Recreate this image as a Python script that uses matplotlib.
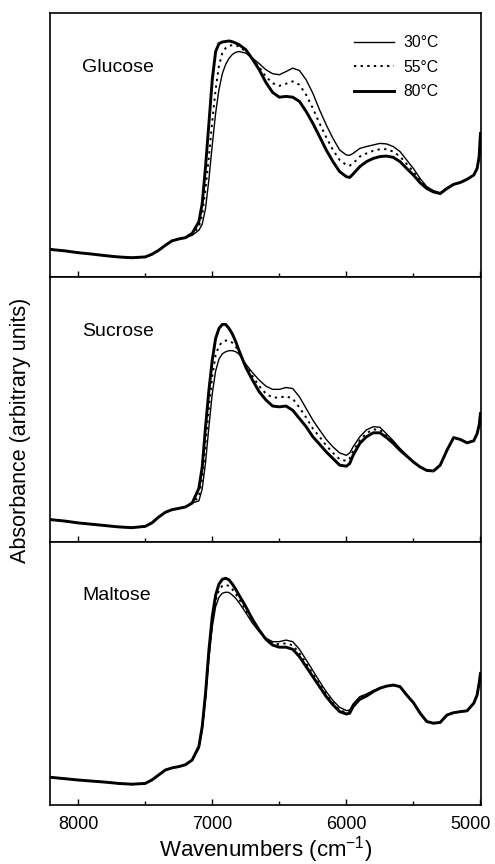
import numpy as np
import matplotlib
matplotlib.use('Agg')
import matplotlib.pyplot as plt
import matplotlib.transforms as mtransforms

plt.rcParams['font.family'] = ['Liberation Sans', 'DejaVu Sans']

wavenumber = [8200, 8100, 8000, 7900, 7800, 7700, 7600, 7500,
              7450, 7400, 7350, 7300, 7250, 7200, 7150, 7100,
              7075, 7050, 7025, 7000, 6975, 6950, 6925, 6900, 6875, 6850, 6825, 6800,
              6750, 6700, 6650, 6600, 6550, 6500, 6450, 6400, 6350, 6300, 6250, 6200,
              6150, 6100, 6050, 6000, 5975,
              5950, 5900, 5850, 5800, 5750, 5700, 5650, 5600, 5550, 5500, 5450, 5400,
              5350, 5300, 5250, 5200, 5150, 5100, 5050, 5025, 5010, 5000]

glucose_30 = [.104, .099, .092, .087, .081, .076, .073, .076,
              .086, .101, .120, .137, .144, .149, .158, .177,
              .200, .260, .370, .500, .620, .710, .770, .805, .828, .843, .851, .854,
              .848, .829, .808, .785, .770, .766, .778, .791, .782, .747, .696, .633,
              .576, .525, .481, .462, .461,
              .468, .487, .494, .500, .506, .504, .494, .475, .443, .411, .373, .342,
              .327, .319, .338, .351, .358, .370, .386, .411, .456, .544]
glucose_55 = [.104, .099, .092, .087, .081, .076, .073, .076,
              .086, .101, .120, .137, .144, .149, .161, .190,
              .234, .335, .456, .590, .710, .800, .848, .867, .876, .878, .877, .873,
              .854, .825, .795, .759, .734, .724, .732, .741, .728, .690, .639, .582,
              .529, .481, .443, .424, .422,
              .430, .456, .468, .478, .484, .484, .475, .456, .428, .399, .365, .338,
              .323, .316, .337, .351, .358, .370, .386, .411, .456, .544]
glucose_80 = [.104, .099, .092, .087, .081, .076, .073, .076,
              .086, .101, .120, .137, .144, .149, .165, .209,
              .278, .418, .582, .747, .854, .884, .890, .892, .894, .891, .886, .880,
              .861, .825, .785, .737, .699, .681, .684, .681, .665, .627, .582, .532,
              .481, .437, .399, .380, .377,
              .390, .418, .437, .449, .456, .458, .453, .437, .411, .386, .357, .335,
              .322, .316, .335, .351, .358, .370, .386, .411, .456, .544]

sucrose_30 = [.084, .079, .072, .067, .062, .057, .054, .059,
              .072, .094, .112, .122, .127, .132, .147, .155,
              .200, .300, .435, .560, .645, .690, .710, .718, .722, .722, .718, .709,
              .671, .639, .611, .588, .576, .576, .583, .579, .548, .504, .460, .423,
              .387, .359, .336, .327, .336,
              .359, .397, .423, .435, .433, .408, .382, .353, .328, .302, .283, .270,
              .268, .290, .346, .394, .387, .374, .382, .409, .441, .485]
sucrose_55 = [.084, .079, .072, .067, .062, .057, .054, .059,
              .072, .094, .112, .122, .127, .132, .147, .170,
              .240, .370, .505, .625, .705, .740, .755, .760, .760, .752, .737, .716,
              .668, .626, .588, .560, .545, .545, .550, .541, .507, .470, .428, .397,
              .364, .336, .312, .306, .315,
              .344, .384, .410, .425, .423, .401, .377, .350, .326, .302, .283, .270,
              .268, .290, .346, .394, .387, .374, .382, .409, .441, .485]
sucrose_80 = [.084, .079, .072, .067, .062, .057, .054, .059,
              .072, .094, .112, .122, .127, .132, .147, .202,
              .283, .435, .573, .686, .768, .806, .821, .821, .806, .785, .756, .722,
              .659, .611, .567, .536, .513, .510, .513, .497, .466, .435, .397, .369,
              .340, .315, .290, .286, .296,
              .327, .372, .397, .412, .412, .394, .372, .346, .324, .302, .283, .270,
              .268, .290, .346, .394, .387, .374, .382, .409, .441, .485]

maltose_30 = [.105, .100, .095, .091, .087, .082, .079, .082,
              .095, .114, .133, .141, .146, .153, .171, .215,
              .285, .406, .558, .678, .754, .790, .805, .809, .808, .798, .786, .769,
              .731, .691, .659, .634, .621, .621, .627, .621, .592, .552, .511, .470,
              .431, .397, .371, .359, .361,
              .384, .412, .422, .435, .444, .452, .456, .450, .418, .389, .349, .317,
              .311, .314, .342, .351, .355, .358, .387, .418, .463, .500]
maltose_55 = [.105, .100, .095, .091, .087, .082, .079, .082,
              .095, .114, .133, .141, .146, .153, .171, .219,
              .292, .414, .573, .697, .777, .817, .833, .837, .833, .820, .802, .783,
              .741, .697, .662, .632, .615, .611, .615, .607, .577, .539, .498, .459,
              .421, .389, .361, .351, .355,
              .379, .407, .418, .433, .444, .452, .456, .450, .418, .389, .349, .317,
              .311, .314, .342, .351, .355, .358, .387, .418, .463, .500]
maltose_80 = [.105, .100, .095, .091, .087, .082, .079, .082,
              .095, .114, .133, .141, .146, .153, .171, .222,
              .298, .425, .589, .716, .798, .840, .858, .862, .856, .840, .820, .798,
              .754, .706, .665, .630, .608, .600, .600, .592, .564, .526, .488, .450,
              .412, .381, .355, .346, .349,
              .374, .402, .414, .431, .444, .452, .456, .450, .418, .389, .349, .317,
              .311, .314, .342, .351, .355, .358, .387, .418, .463, .500]

sugars = ['Glucose', 'Sucrose', 'Maltose']
temps = ['30\u00b0C', '55\u00b0C', '80\u00b0C']
major_ticks = [8000, 7000, 6000, 5000]
minor_ticks = [8000, 7500, 7000, 6500, 6000, 5500, 5000]
spectra = [[glucose_30, glucose_55, glucose_80],
           [sucrose_30, sucrose_55, sucrose_80],
           [maltose_30, maltose_55, maltose_80]]
styles = [dict(linestyle='-', linewidth=1.0),
          dict(linestyle=(0, (1.2, 2.2)), linewidth=1.4),
          dict(linestyle='-', linewidth=2.1)]

fig = plt.figure(figsize=(4.95, 8.64), dpi=100)
boxes = [[0.101, 0.6794, 0.871, 0.3056],
         [0.101, 0.3727, 0.871, 0.3067],
         [0.101, 0.0683, 0.871, 0.3044]]

w = np.array(wavenumber)
for i, name in enumerate(sugars):
    ax = fig.add_axes(boxes[i])
    for j in range(3):
        ax.plot(w, spectra[i][j], color='black', label=temps[j], **styles[j])
    ax.set_xlim(8210, 4995)
    ax.set_ylim(0, 1)
    ax.set_yticks([])
    ax.set_xticks(major_ticks)
    ax.set_xticks(minor_ticks, minor=True)
    ax.tick_params(axis='x', which='both', direction='in', top=False, width=1)
    ax.tick_params(axis='x', which='major', length=4, labelsize=13, pad=8)
    ax.tick_params(axis='x', which='minor', length=3)
    for s in ax.spines.values():
        s.set_linewidth(1.2)
    ax.text(0.075, 0.795, name, transform=ax.transAxes, fontsize=14, va='center')
    if i < 2:
        ax.tick_params(axis='x', labelbottom=False)
    if i == 0:
        ax.legend(loc='upper left', bbox_to_anchor=(0.705, 0.915), frameon=False,
                  fontsize=11.3, handlelength=2.55, handletextpad=0.6,
                  labelspacing=0.6, borderpad=0, borderaxespad=0)
    if i == 2:
        ax.set_xlabel('Wavenumbers (cm$^{\\mathregular{-1}}$)', fontsize=16, labelpad=1)

# pull the 5000 label a little left so it stays on the page
for lab in ax.get_xticklabels():
    if lab.get_text() == '5000':
        lab.set_transform(lab.get_transform() +
                          mtransforms.ScaledTranslation(-0.1, 0, fig.dpi_scale_trans))

fig.text(0.042, 0.502, 'Absorbance (arbitrary units)', rotation=90, fontsize=15.5,
         va='center', ha='center')

plt.savefig('out.png', dpi=100)
plt.close()
